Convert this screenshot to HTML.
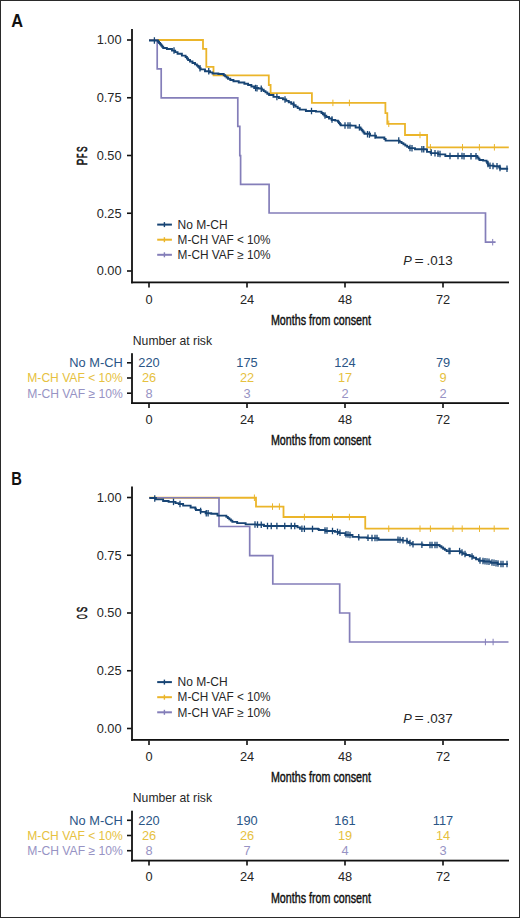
<!DOCTYPE html>
<html><head><meta charset="utf-8"><style>
html,body{margin:0;padding:0;background:#fff;}
body{width:520px;height:918px;overflow:hidden;}
svg{display:block;}
text{font-family:"Liberation Sans", sans-serif;}
</style></head><body>
<svg width="520" height="918" viewBox="0 0 520 918">
<rect x="0" y="0" width="520" height="918" fill="#fff"/>
<rect x="0.5" y="0.5" width="519" height="917" fill="none" stroke="#2a2a2a" stroke-width="1"/>
<text x="11.2" y="26.80" font-size="18.4" font-weight="bold" fill="#111" textLength="11.80" lengthAdjust="spacingAndGlyphs">A</text>
<rect x="131.1" y="29.00" width="1.8" height="254.30" fill="#111"/>
<rect x="131.1" y="281.50" width="377.90" height="1.8" fill="#111"/>
<rect x="127" y="39.20" width="4.5" height="1.6" fill="#111"/>
<text x="121.6" y="44.30" font-size="12.8" fill="#262626" text-anchor="end">1.00</text>
<rect x="127" y="96.95" width="4.5" height="1.6" fill="#111"/>
<text x="121.6" y="102.05" font-size="12.8" fill="#262626" text-anchor="end">0.75</text>
<rect x="127" y="154.70" width="4.5" height="1.6" fill="#111"/>
<text x="121.6" y="159.80" font-size="12.8" fill="#262626" text-anchor="end">0.50</text>
<rect x="127" y="212.45" width="4.5" height="1.6" fill="#111"/>
<text x="121.6" y="217.55" font-size="12.8" fill="#262626" text-anchor="end">0.25</text>
<rect x="127" y="270.20" width="4.5" height="1.6" fill="#111"/>
<text x="121.6" y="275.30" font-size="12.8" fill="#262626" text-anchor="end">0.00</text>
<rect x="148.20" y="283.00" width="1.6" height="4.5" fill="#111"/>
<text x="149.00" y="303.70" font-size="12.8" fill="#262626" text-anchor="middle">0</text>
<rect x="246.20" y="283.00" width="1.6" height="4.5" fill="#111"/>
<text x="247.00" y="303.70" font-size="12.8" fill="#262626" text-anchor="middle">24</text>
<rect x="344.20" y="283.00" width="1.6" height="4.5" fill="#111"/>
<text x="345.00" y="303.70" font-size="12.8" fill="#262626" text-anchor="middle">48</text>
<rect x="442.20" y="283.00" width="1.6" height="4.5" fill="#111"/>
<text x="443.00" y="303.70" font-size="12.8" fill="#262626" text-anchor="middle">72</text>
<text x="270.9" y="324.80" font-size="15.2" fill="#111" stroke="#111" stroke-width="0.45" textLength="100" lengthAdjust="spacingAndGlyphs">Months from consent</text>
<g transform="translate(87.1 155.60) rotate(-90)"><text transform="translate(-9.701 0) scale(0.6428 1)" x="0" y="0" font-size="15.20" fill="#111" stroke="#111" stroke-width="0.60">P</text><text transform="translate(-2.287 0) scale(0.4711 1)" x="0" y="0" font-size="15.20" fill="#111" stroke="#111" stroke-width="0.60">F</text><text transform="translate(3.621 0) scale(0.5485 1)" x="0" y="0" font-size="15.20" fill="#111" stroke="#111" stroke-width="0.60">S</text></g>
<path d="M149.00 40.00 H203.00 V48.80 H206.30 V66.90 H213.50 V75.30 H268.80 V85.00 H270.60 V93.10 H311.90 V102.90 H385.40 V113.10 H387.30 V123.80 H405.00 V135.00 H427.10 V147.30 H508.80" fill="none" stroke="#ebb52a" stroke-width="1.8"/>
<path d="M149.00 40.00 H157.20 V68.90 H161.20 V97.90 H237.80 V126.40 H239.80 V155.70 H240.60 V184.40 H269.10 V213.00 H485.50 V242.20 H495.60" fill="none" stroke="#847eb9" stroke-width="1.7"/>
<path d="M149.00 40.50 H157.50 V40.50 H158.02 V41.75 H159.06 V43.00 H160.10 V44.25 H161.15 V45.50 H162.19 V46.75 H163.23 V48.00 H163.75 H166.88 V49.00 H170.00 H172.00 V50.60 H174.00 H175.19 V52.17 H177.56 V53.75 H178.75 H181.88 V55.60 H185.00 H185.62 V57.07 H186.88 V58.53 H188.12 V60.00 H188.75 H190.00 V61.47 H192.50 V62.93 H195.00 V64.40 H196.25 H196.88 V65.65 H198.12 V66.90 H199.38 V68.15 H200.62 V69.40 H201.25 H205.00 V71.25 H208.75 H210.00 V72.38 H212.50 V73.50 H213.75 H218.38 V74.00 H223.00 H223.72 V75.19 H225.16 V76.38 H226.59 V77.56 H228.03 V78.75 H228.75 H230.31 V80.00 H233.44 V81.25 H235.00 H238.75 V82.50 H242.50 H244.38 V83.75 H248.12 V85.00 H250.00 H251.40 V86.50 H254.20 V88.00 H255.60 H258.30 V88.50 H261.00 H261.90 V89.80 H263.70 V91.10 H265.50 V92.40 H267.30 V93.70 H269.10 V95.00 H270.00 H273.45 V96.90 H276.90 H278.92 V98.15 H282.98 V99.40 H285.00 H286.25 V100.85 H288.75 V102.30 H291.25 V103.75 H292.50 H293.54 V105.21 H295.61 V106.67 H297.69 V108.14 H299.76 V109.60 H300.80 H305.90 V111.00 H311.00 H315.90 V111.60 H320.80 H321.50 V112.93 H322.90 V114.27 H324.30 V115.60 H325.00 H326.33 V117.07 H329.00 V118.53 H331.67 V120.00 H333.00 H335.25 V120.60 H337.50 H337.97 V121.80 H338.91 V123.00 H339.84 V124.20 H340.78 V125.40 H341.25 H351.25 V125.60 H355.62 V127.50 H360.00 H360.50 V128.75 H361.50 V130.00 H362.50 V131.25 H363.50 V132.50 H364.50 V133.75 H365.00 H370.00 V135.60 H375.00 H375.95 V137.50 H376.90 H383.75 V137.50 H384.38 V139.05 H385.62 V140.60 H386.25 H398.75 V140.60 H399.69 V141.85 H401.56 V143.10 H403.44 V144.35 H405.31 V145.60 H407.19 V146.85 H409.06 V148.10 H410.00 H415.00 V149.20 H420.00 H426.25 V149.40 H427.00 V151.90 H430.73 V153.15 H438.17 V154.40 H441.90 H445.32 V156.00 H448.75 H476.90 V156.25 H477.42 V157.50 H478.45 V158.75 H479.48 V160.00 H480.00 H483.12 V160.60 H486.25 H486.56 V161.85 H487.19 V163.10 H487.81 V164.35 H488.44 V165.60 H488.75 H493.75 V166.25 H498.75 H499.21 V167.50 H500.14 V168.75 H500.60 H508.10 V168.75" fill="none" stroke="#174474" stroke-width="1.9"/>
<line x1="332.90" y1="99.65" x2="332.90" y2="106.15" stroke="#ebb52a" stroke-width="1.00"/><line x1="349.40" y1="99.65" x2="349.40" y2="106.15" stroke="#ebb52a" stroke-width="1.00"/><line x1="388.75" y1="120.55" x2="388.75" y2="127.05" stroke="#ebb52a" stroke-width="1.00"/><line x1="420.00" y1="131.75" x2="420.00" y2="138.25" stroke="#ebb52a" stroke-width="1.00"/><line x1="430.40" y1="144.05" x2="430.40" y2="150.55" stroke="#ebb52a" stroke-width="1.00"/><line x1="462.50" y1="144.05" x2="462.50" y2="150.55" stroke="#ebb52a" stroke-width="1.00"/><line x1="479.40" y1="144.05" x2="479.40" y2="150.55" stroke="#ebb52a" stroke-width="1.00"/><line x1="494.40" y1="144.05" x2="494.40" y2="150.55" stroke="#ebb52a" stroke-width="1.00"/>
<line x1="492.70" y1="238.95" x2="492.70" y2="245.45" stroke="#847eb9" stroke-width="1.00"/>
<line x1="154.40" y1="37.25" x2="154.40" y2="43.75" stroke="#174474" stroke-width="1.30"/><line x1="174.00" y1="47.35" x2="174.00" y2="53.85" stroke="#174474" stroke-width="1.30"/><line x1="200.00" y1="64.90" x2="200.00" y2="71.40" stroke="#174474" stroke-width="1.30"/><line x1="208.75" y1="68.00" x2="208.75" y2="74.50" stroke="#174474" stroke-width="1.30"/><line x1="255.60" y1="84.75" x2="255.60" y2="91.25" stroke="#174474" stroke-width="1.30"/><line x1="257.00" y1="84.88" x2="257.00" y2="91.38" stroke="#174474" stroke-width="1.30"/><line x1="261.25" y1="85.43" x2="261.25" y2="91.93" stroke="#174474" stroke-width="1.30"/><line x1="276.90" y1="93.65" x2="276.90" y2="100.15" stroke="#174474" stroke-width="1.30"/><line x1="285.00" y1="96.15" x2="285.00" y2="102.65" stroke="#174474" stroke-width="1.30"/><line x1="293.75" y1="101.38" x2="293.75" y2="107.88" stroke="#174474" stroke-width="1.30"/><line x1="311.50" y1="107.78" x2="311.50" y2="114.28" stroke="#174474" stroke-width="1.30"/><line x1="325.00" y1="112.35" x2="325.00" y2="118.85" stroke="#174474" stroke-width="1.30"/><line x1="332.00" y1="116.20" x2="332.00" y2="122.70" stroke="#174474" stroke-width="1.30"/><line x1="345.00" y1="122.22" x2="345.00" y2="128.72" stroke="#174474" stroke-width="1.30"/><line x1="348.00" y1="122.28" x2="348.00" y2="128.78" stroke="#174474" stroke-width="1.30"/><line x1="350.00" y1="122.32" x2="350.00" y2="128.82" stroke="#174474" stroke-width="1.30"/><line x1="359.40" y1="124.12" x2="359.40" y2="130.62" stroke="#174474" stroke-width="1.30"/><line x1="367.50" y1="130.96" x2="367.50" y2="137.46" stroke="#174474" stroke-width="1.30"/><line x1="369.40" y1="131.31" x2="369.40" y2="137.81" stroke="#174474" stroke-width="1.30"/><line x1="375.00" y1="132.35" x2="375.00" y2="138.85" stroke="#174474" stroke-width="1.30"/><line x1="398.75" y1="137.35" x2="398.75" y2="143.85" stroke="#174474" stroke-width="1.30"/><line x1="410.00" y1="144.85" x2="410.00" y2="151.35" stroke="#174474" stroke-width="1.30"/><line x1="412.00" y1="145.07" x2="412.00" y2="151.57" stroke="#174474" stroke-width="1.30"/><line x1="421.90" y1="146.01" x2="421.90" y2="152.51" stroke="#174474" stroke-width="1.30"/><line x1="423.75" y1="146.07" x2="423.75" y2="152.57" stroke="#174474" stroke-width="1.30"/><line x1="431.25" y1="149.36" x2="431.25" y2="155.86" stroke="#174474" stroke-width="1.30"/><line x1="435.00" y1="149.99" x2="435.00" y2="156.49" stroke="#174474" stroke-width="1.30"/><line x1="438.00" y1="150.50" x2="438.00" y2="157.00" stroke="#174474" stroke-width="1.30"/><line x1="440.00" y1="150.83" x2="440.00" y2="157.33" stroke="#174474" stroke-width="1.30"/><line x1="450.00" y1="152.76" x2="450.00" y2="159.26" stroke="#174474" stroke-width="1.30"/><line x1="458.00" y1="152.83" x2="458.00" y2="159.33" stroke="#174474" stroke-width="1.30"/><line x1="462.00" y1="152.87" x2="462.00" y2="159.37" stroke="#174474" stroke-width="1.30"/><line x1="464.00" y1="152.89" x2="464.00" y2="159.39" stroke="#174474" stroke-width="1.30"/><line x1="471.00" y1="152.95" x2="471.00" y2="159.45" stroke="#174474" stroke-width="1.30"/><line x1="476.00" y1="152.99" x2="476.00" y2="159.49" stroke="#174474" stroke-width="1.30"/><line x1="488.00" y1="160.85" x2="488.00" y2="167.35" stroke="#174474" stroke-width="1.30"/><line x1="490.00" y1="162.43" x2="490.00" y2="168.93" stroke="#174474" stroke-width="1.30"/><line x1="493.00" y1="162.63" x2="493.00" y2="169.13" stroke="#174474" stroke-width="1.30"/><line x1="497.00" y1="162.89" x2="497.00" y2="169.39" stroke="#174474" stroke-width="1.30"/><line x1="500.00" y1="164.69" x2="500.00" y2="171.19" stroke="#174474" stroke-width="1.30"/><line x1="507.00" y1="165.50" x2="507.00" y2="172.00" stroke="#174474" stroke-width="1.30"/>
<rect x="157.2" y="223.60" width="14.7" height="2" fill="#174474"/>
<rect x="163.7" y="222.10" width="1.4" height="5" fill="#174474"/>
<text x="177.6" y="228.80" font-size="12" fill="#262626" textLength="50.00" lengthAdjust="spacingAndGlyphs">No M-CH</text>
<rect x="157.2" y="238.70" width="14.7" height="2" fill="#ebb52a"/>
<rect x="163.7" y="237.20" width="1.4" height="5" fill="#ebb52a"/>
<text x="177.6" y="243.90" font-size="12" fill="#262626" textLength="93.00" lengthAdjust="spacingAndGlyphs">M-CH VAF &lt; 10%</text>
<rect x="157.2" y="253.80" width="14.7" height="2" fill="#847eb9"/>
<rect x="163.7" y="252.30" width="1.4" height="5" fill="#847eb9"/>
<text x="177.6" y="259.00" font-size="12" fill="#262626" textLength="93.00" lengthAdjust="spacingAndGlyphs">M-CH VAF &#8805; 10%</text>
<text x="403.2" y="265.20" font-size="12.8" font-style="italic" fill="#262626">P</text>
<text x="414.6" y="264.60" font-size="12.8" fill="#262626" textLength="9.2" lengthAdjust="spacingAndGlyphs">=</text>
<text x="426.6" y="265.20" font-size="13.4" fill="#262626">.013</text>
<text x="132.8" y="344.70" font-size="12.2" fill="#262626">Number at risk</text>
<rect x="131.1" y="353.20" width="1.8" height="50.80" fill="#111"/>
<rect x="131.1" y="402.20" width="377.90" height="1.8" fill="#111"/>
<rect x="127" y="362.00" width="4.5" height="1.6" fill="#111"/>
<text x="69.30" y="367.10" font-size="12.6" fill="#2a5586" textLength="53.50" lengthAdjust="spacingAndGlyphs">No M-CH</text>
<text x="149.00" y="367.10" font-size="12.8" fill="#2a5586" text-anchor="middle">220</text>
<text x="247.00" y="367.10" font-size="12.8" fill="#2a5586" text-anchor="middle">175</text>
<text x="345.00" y="367.10" font-size="12.8" fill="#2a5586" text-anchor="middle">124</text>
<text x="443.00" y="367.10" font-size="12.8" fill="#2a5586" text-anchor="middle">79</text>
<rect x="127" y="377.20" width="4.5" height="1.6" fill="#111"/>
<text x="27.30" y="382.30" font-size="12.6" fill="#e6c140" textLength="95.50" lengthAdjust="spacingAndGlyphs">M-CH VAF &lt; 10%</text>
<text x="149.00" y="382.30" font-size="12.8" fill="#e6c140" text-anchor="middle">26</text>
<text x="247.00" y="382.30" font-size="12.8" fill="#e6c140" text-anchor="middle">22</text>
<text x="345.00" y="382.30" font-size="12.8" fill="#e6c140" text-anchor="middle">17</text>
<text x="443.00" y="382.30" font-size="12.8" fill="#e6c140" text-anchor="middle">9</text>
<rect x="127" y="392.40" width="4.5" height="1.6" fill="#111"/>
<text x="27.30" y="397.50" font-size="12.6" fill="#9793c4" textLength="95.50" lengthAdjust="spacingAndGlyphs">M-CH VAF &#8805; 10%</text>
<text x="149.00" y="397.50" font-size="12.8" fill="#9793c4" text-anchor="middle">8</text>
<text x="247.00" y="397.50" font-size="12.8" fill="#9793c4" text-anchor="middle">3</text>
<text x="345.00" y="397.50" font-size="12.8" fill="#9793c4" text-anchor="middle">2</text>
<text x="443.00" y="397.50" font-size="12.8" fill="#9793c4" text-anchor="middle">2</text>
<rect x="148.20" y="403.50" width="1.6" height="4.5" fill="#111"/>
<text x="149.00" y="423.80" font-size="12.8" fill="#262626" text-anchor="middle">0</text>
<rect x="246.20" y="403.50" width="1.6" height="4.5" fill="#111"/>
<text x="247.00" y="423.80" font-size="12.8" fill="#262626" text-anchor="middle">24</text>
<rect x="344.20" y="403.50" width="1.6" height="4.5" fill="#111"/>
<text x="345.00" y="423.80" font-size="12.8" fill="#262626" text-anchor="middle">48</text>
<rect x="442.20" y="403.50" width="1.6" height="4.5" fill="#111"/>
<text x="443.00" y="423.80" font-size="12.8" fill="#262626" text-anchor="middle">72</text>
<text x="270.9" y="445.40" font-size="15.2" fill="#111" stroke="#111" stroke-width="0.45" textLength="100" lengthAdjust="spacingAndGlyphs">Months from consent</text>
<text x="11.2" y="484.70" font-size="18.4" font-weight="bold" fill="#111" textLength="10.60" lengthAdjust="spacingAndGlyphs">B</text>
<rect x="131.1" y="486.50" width="1.8" height="254.30" fill="#111"/>
<rect x="131.1" y="739.00" width="377.90" height="1.8" fill="#111"/>
<rect x="127" y="496.70" width="4.5" height="1.6" fill="#111"/>
<text x="121.6" y="501.80" font-size="12.8" fill="#262626" text-anchor="end">1.00</text>
<rect x="127" y="554.45" width="4.5" height="1.6" fill="#111"/>
<text x="121.6" y="559.55" font-size="12.8" fill="#262626" text-anchor="end">0.75</text>
<rect x="127" y="612.20" width="4.5" height="1.6" fill="#111"/>
<text x="121.6" y="617.30" font-size="12.8" fill="#262626" text-anchor="end">0.50</text>
<rect x="127" y="669.95" width="4.5" height="1.6" fill="#111"/>
<text x="121.6" y="675.05" font-size="12.8" fill="#262626" text-anchor="end">0.25</text>
<rect x="127" y="727.70" width="4.5" height="1.6" fill="#111"/>
<text x="121.6" y="732.80" font-size="12.8" fill="#262626" text-anchor="end">0.00</text>
<rect x="148.20" y="740.50" width="1.6" height="4.5" fill="#111"/>
<text x="149.00" y="761.20" font-size="12.8" fill="#262626" text-anchor="middle">0</text>
<rect x="246.20" y="740.50" width="1.6" height="4.5" fill="#111"/>
<text x="247.00" y="761.20" font-size="12.8" fill="#262626" text-anchor="middle">24</text>
<rect x="344.20" y="740.50" width="1.6" height="4.5" fill="#111"/>
<text x="345.00" y="761.20" font-size="12.8" fill="#262626" text-anchor="middle">48</text>
<rect x="442.20" y="740.50" width="1.6" height="4.5" fill="#111"/>
<text x="443.00" y="761.20" font-size="12.8" fill="#262626" text-anchor="middle">72</text>
<text x="270.9" y="782.30" font-size="15.2" fill="#111" stroke="#111" stroke-width="0.45" textLength="100" lengthAdjust="spacingAndGlyphs">Months from consent</text>
<g transform="translate(87.1 613.10) rotate(-90)"><text transform="translate(-5.891 0) scale(0.4048 1)" x="0" y="0" font-size="15.20" fill="#111" stroke="#111" stroke-width="0.60">O</text><text transform="translate(0.929 0) scale(0.5371 1)" x="0" y="0" font-size="15.20" fill="#111" stroke="#111" stroke-width="0.60">S</text></g>
<path d="M149.00 497.75 H256.00 V506.60 H283.50 V517.00 H365.25 V528.70 H508.90" fill="none" stroke="#ebb52a" stroke-width="1.8"/>
<path d="M149.00 497.75 H219.00 V526.50 H249.70 V555.60 H272.80 V584.00 H339.70 V613.00 H349.60 V642.00 H508.50" fill="none" stroke="#847eb9" stroke-width="1.7"/>
<path d="M149.40 498.00 H155.95 V499.40 H162.50 H163.12 V501.00 H163.75 H168.62 V501.90 H173.50 H175.50 V503.10 H177.50 H178.75 V504.00 H180.00 H183.12 V505.60 H186.25 H190.62 V507.50 H195.00 H195.31 V508.75 H195.94 V510.00 H196.25 H200.62 V511.90 H205.00 H205.62 V513.20 H206.25 H211.25 V513.75 H216.25 H217.50 V515.60 H218.75 H225.60 V515.60 H226.35 V516.86 H227.85 V518.12 H229.35 V519.38 H230.85 V520.64 H232.35 V521.90 H233.10 H237.18 V523.10 H241.25 H245.62 V524.40 H250.00 H256.88 V524.75 H263.75 H264.00 V526.00 H296.25 V526.00 H297.50 V527.38 H300.00 V528.75 H301.25 H318.00 V529.00 H318.75 V530.00 H325.62 V531.00 H332.50 H335.00 V531.90 H337.50 H339.05 V533.10 H340.60 H345.30 V535.00 H350.00 H352.50 V536.90 H355.00 H358.75 V537.50 H362.50 H367.25 V538.10 H372.00 H378.10 V538.10 H378.50 V539.75 H398.10 V539.75 H402.18 V540.60 H406.25 H407.19 V541.85 H409.06 V543.10 H410.00 H411.88 V544.40 H413.75 H420.00 V544.40 H422.50 V545.00 H425.00 H438.80 V545.10 H439.67 V546.30 H441.41 V547.50 H443.15 V548.70 H444.89 V549.90 H446.63 V551.10 H447.50 H459.60 V551.10 H460.68 V552.40 H462.82 V553.70 H463.90 H465.85 V555.00 H469.75 V556.30 H471.70 H473.15 V557.77 H476.05 V559.23 H478.95 V560.70 H480.40 H483.85 V561.50 H487.30 H490.75 V562.80 H497.65 V564.10 H501.10 H508.00 V564.10" fill="none" stroke="#174474" stroke-width="1.9"/>
<line x1="254.40" y1="494.50" x2="254.40" y2="501.00" stroke="#ebb52a" stroke-width="1.00"/><line x1="272.50" y1="503.35" x2="272.50" y2="509.85" stroke="#ebb52a" stroke-width="1.00"/><line x1="279.40" y1="503.35" x2="279.40" y2="509.85" stroke="#ebb52a" stroke-width="1.00"/><line x1="304.40" y1="513.75" x2="304.40" y2="520.25" stroke="#ebb52a" stroke-width="1.00"/><line x1="332.50" y1="513.75" x2="332.50" y2="520.25" stroke="#ebb52a" stroke-width="1.00"/><line x1="349.40" y1="513.75" x2="349.40" y2="520.25" stroke="#ebb52a" stroke-width="1.00"/><line x1="388.75" y1="525.45" x2="388.75" y2="531.95" stroke="#ebb52a" stroke-width="1.00"/><line x1="420.00" y1="525.45" x2="420.00" y2="531.95" stroke="#ebb52a" stroke-width="1.00"/><line x1="430.40" y1="525.45" x2="430.40" y2="531.95" stroke="#ebb52a" stroke-width="1.00"/><line x1="453.00" y1="525.45" x2="453.00" y2="531.95" stroke="#ebb52a" stroke-width="1.00"/><line x1="462.20" y1="525.45" x2="462.20" y2="531.95" stroke="#ebb52a" stroke-width="1.00"/><line x1="479.50" y1="525.45" x2="479.50" y2="531.95" stroke="#ebb52a" stroke-width="1.00"/><line x1="494.20" y1="525.45" x2="494.20" y2="531.95" stroke="#ebb52a" stroke-width="1.00"/>
<line x1="485.40" y1="638.75" x2="485.40" y2="645.25" stroke="#847eb9" stroke-width="1.00"/><line x1="493.10" y1="638.75" x2="493.10" y2="645.25" stroke="#847eb9" stroke-width="1.00"/>
<line x1="154.75" y1="495.32" x2="154.75" y2="501.82" stroke="#174474" stroke-width="1.30"/><line x1="173.50" y1="498.65" x2="173.50" y2="505.15" stroke="#174474" stroke-width="1.30"/><line x1="180.00" y1="500.75" x2="180.00" y2="507.25" stroke="#174474" stroke-width="1.30"/><line x1="200.60" y1="507.69" x2="200.60" y2="514.19" stroke="#174474" stroke-width="1.30"/><line x1="206.25" y1="509.95" x2="206.25" y2="516.45" stroke="#174474" stroke-width="1.30"/><line x1="208.10" y1="510.05" x2="208.10" y2="516.55" stroke="#174474" stroke-width="1.30"/><line x1="255.00" y1="521.28" x2="255.00" y2="527.78" stroke="#174474" stroke-width="1.30"/><line x1="257.50" y1="521.34" x2="257.50" y2="527.84" stroke="#174474" stroke-width="1.30"/><line x1="261.25" y1="521.44" x2="261.25" y2="527.94" stroke="#174474" stroke-width="1.30"/><line x1="267.50" y1="522.75" x2="267.50" y2="529.25" stroke="#174474" stroke-width="1.30"/><line x1="271.25" y1="522.75" x2="271.25" y2="529.25" stroke="#174474" stroke-width="1.30"/><line x1="276.90" y1="522.75" x2="276.90" y2="529.25" stroke="#174474" stroke-width="1.30"/><line x1="284.75" y1="522.75" x2="284.75" y2="529.25" stroke="#174474" stroke-width="1.30"/><line x1="291.25" y1="522.75" x2="291.25" y2="529.25" stroke="#174474" stroke-width="1.30"/><line x1="294.75" y1="522.75" x2="294.75" y2="529.25" stroke="#174474" stroke-width="1.30"/><line x1="301.90" y1="525.51" x2="301.90" y2="532.01" stroke="#174474" stroke-width="1.30"/><line x1="304.40" y1="525.55" x2="304.40" y2="532.05" stroke="#174474" stroke-width="1.30"/><line x1="312.50" y1="525.67" x2="312.50" y2="532.17" stroke="#174474" stroke-width="1.30"/><line x1="325.00" y1="527.20" x2="325.00" y2="533.70" stroke="#174474" stroke-width="1.30"/><line x1="327.00" y1="527.35" x2="327.00" y2="533.85" stroke="#174474" stroke-width="1.30"/><line x1="332.50" y1="527.75" x2="332.50" y2="534.25" stroke="#174474" stroke-width="1.30"/><line x1="337.50" y1="528.65" x2="337.50" y2="535.15" stroke="#174474" stroke-width="1.30"/><line x1="340.00" y1="529.62" x2="340.00" y2="536.12" stroke="#174474" stroke-width="1.30"/><line x1="346.00" y1="530.94" x2="346.00" y2="537.44" stroke="#174474" stroke-width="1.30"/><line x1="348.00" y1="531.35" x2="348.00" y2="537.85" stroke="#174474" stroke-width="1.30"/><line x1="350.00" y1="531.75" x2="350.00" y2="538.25" stroke="#174474" stroke-width="1.30"/><line x1="358.75" y1="533.95" x2="358.75" y2="540.45" stroke="#174474" stroke-width="1.30"/><line x1="368.00" y1="534.60" x2="368.00" y2="541.10" stroke="#174474" stroke-width="1.30"/><line x1="372.00" y1="534.85" x2="372.00" y2="541.35" stroke="#174474" stroke-width="1.30"/><line x1="375.00" y1="534.85" x2="375.00" y2="541.35" stroke="#174474" stroke-width="1.30"/><line x1="377.00" y1="534.85" x2="377.00" y2="541.35" stroke="#174474" stroke-width="1.30"/><line x1="398.00" y1="536.50" x2="398.00" y2="543.00" stroke="#174474" stroke-width="1.30"/><line x1="400.00" y1="536.70" x2="400.00" y2="543.20" stroke="#174474" stroke-width="1.30"/><line x1="403.00" y1="537.01" x2="403.00" y2="543.51" stroke="#174474" stroke-width="1.30"/><line x1="407.00" y1="537.85" x2="407.00" y2="544.35" stroke="#174474" stroke-width="1.30"/><line x1="410.00" y1="539.85" x2="410.00" y2="546.35" stroke="#174474" stroke-width="1.30"/><line x1="413.00" y1="540.89" x2="413.00" y2="547.39" stroke="#174474" stroke-width="1.30"/><line x1="421.90" y1="541.38" x2="421.90" y2="547.88" stroke="#174474" stroke-width="1.30"/><line x1="430.00" y1="541.79" x2="430.00" y2="548.29" stroke="#174474" stroke-width="1.30"/><line x1="432.00" y1="541.80" x2="432.00" y2="548.30" stroke="#174474" stroke-width="1.30"/><line x1="435.00" y1="541.82" x2="435.00" y2="548.32" stroke="#174474" stroke-width="1.30"/><line x1="437.00" y1="541.84" x2="437.00" y2="548.34" stroke="#174474" stroke-width="1.30"/><line x1="449.00" y1="547.85" x2="449.00" y2="554.35" stroke="#174474" stroke-width="1.30"/><line x1="450.00" y1="547.85" x2="450.00" y2="554.35" stroke="#174474" stroke-width="1.30"/><line x1="459.60" y1="547.85" x2="459.60" y2="554.35" stroke="#174474" stroke-width="1.30"/><line x1="462.00" y1="549.30" x2="462.00" y2="555.80" stroke="#174474" stroke-width="1.30"/><line x1="465.00" y1="550.82" x2="465.00" y2="557.32" stroke="#174474" stroke-width="1.30"/><line x1="472.00" y1="553.20" x2="472.00" y2="559.70" stroke="#174474" stroke-width="1.30"/><line x1="480.00" y1="557.25" x2="480.00" y2="563.75" stroke="#174474" stroke-width="1.30"/><line x1="483.00" y1="557.75" x2="483.00" y2="564.25" stroke="#174474" stroke-width="1.30"/><line x1="485.00" y1="557.98" x2="485.00" y2="564.48" stroke="#174474" stroke-width="1.30"/><line x1="487.00" y1="558.22" x2="487.00" y2="564.72" stroke="#174474" stroke-width="1.30"/><line x1="489.00" y1="558.57" x2="489.00" y2="565.07" stroke="#174474" stroke-width="1.30"/><line x1="492.00" y1="559.14" x2="492.00" y2="565.64" stroke="#174474" stroke-width="1.30"/><line x1="494.00" y1="559.51" x2="494.00" y2="566.01" stroke="#174474" stroke-width="1.30"/><line x1="496.00" y1="559.89" x2="496.00" y2="566.39" stroke="#174474" stroke-width="1.30"/><line x1="498.00" y1="560.27" x2="498.00" y2="566.77" stroke="#174474" stroke-width="1.30"/><line x1="501.00" y1="560.83" x2="501.00" y2="567.33" stroke="#174474" stroke-width="1.30"/><line x1="503.00" y1="560.85" x2="503.00" y2="567.35" stroke="#174474" stroke-width="1.30"/><line x1="507.00" y1="560.85" x2="507.00" y2="567.35" stroke="#174474" stroke-width="1.30"/>
<rect x="157.2" y="681.10" width="14.7" height="2" fill="#174474"/>
<rect x="163.7" y="679.60" width="1.4" height="5" fill="#174474"/>
<text x="177.6" y="686.30" font-size="12" fill="#262626" textLength="50.00" lengthAdjust="spacingAndGlyphs">No M-CH</text>
<rect x="157.2" y="696.20" width="14.7" height="2" fill="#ebb52a"/>
<rect x="163.7" y="694.70" width="1.4" height="5" fill="#ebb52a"/>
<text x="177.6" y="701.40" font-size="12" fill="#262626" textLength="93.00" lengthAdjust="spacingAndGlyphs">M-CH VAF &lt; 10%</text>
<rect x="157.2" y="711.30" width="14.7" height="2" fill="#847eb9"/>
<rect x="163.7" y="709.80" width="1.4" height="5" fill="#847eb9"/>
<text x="177.6" y="716.50" font-size="12" fill="#262626" textLength="93.00" lengthAdjust="spacingAndGlyphs">M-CH VAF &#8805; 10%</text>
<text x="403.2" y="722.70" font-size="12.8" font-style="italic" fill="#262626">P</text>
<text x="414.6" y="722.10" font-size="12.8" fill="#262626" textLength="9.2" lengthAdjust="spacingAndGlyphs">=</text>
<text x="426.6" y="722.70" font-size="13.4" fill="#262626">.037</text>
<text x="132.8" y="802.20" font-size="12.2" fill="#262626">Number at risk</text>
<rect x="131.1" y="810.70" width="1.8" height="50.80" fill="#111"/>
<rect x="131.1" y="859.70" width="377.90" height="1.8" fill="#111"/>
<rect x="127" y="819.50" width="4.5" height="1.6" fill="#111"/>
<text x="69.30" y="824.60" font-size="12.6" fill="#2a5586" textLength="53.50" lengthAdjust="spacingAndGlyphs">No M-CH</text>
<text x="149.00" y="824.60" font-size="12.8" fill="#2a5586" text-anchor="middle">220</text>
<text x="247.00" y="824.60" font-size="12.8" fill="#2a5586" text-anchor="middle">190</text>
<text x="345.00" y="824.60" font-size="12.8" fill="#2a5586" text-anchor="middle">161</text>
<text x="443.00" y="824.60" font-size="12.8" fill="#2a5586" text-anchor="middle">117</text>
<rect x="127" y="834.70" width="4.5" height="1.6" fill="#111"/>
<text x="27.30" y="839.80" font-size="12.6" fill="#e6c140" textLength="95.50" lengthAdjust="spacingAndGlyphs">M-CH VAF &lt; 10%</text>
<text x="149.00" y="839.80" font-size="12.8" fill="#e6c140" text-anchor="middle">26</text>
<text x="247.00" y="839.80" font-size="12.8" fill="#e6c140" text-anchor="middle">26</text>
<text x="345.00" y="839.80" font-size="12.8" fill="#e6c140" text-anchor="middle">19</text>
<text x="443.00" y="839.80" font-size="12.8" fill="#e6c140" text-anchor="middle">14</text>
<rect x="127" y="849.90" width="4.5" height="1.6" fill="#111"/>
<text x="27.30" y="855.00" font-size="12.6" fill="#9793c4" textLength="95.50" lengthAdjust="spacingAndGlyphs">M-CH VAF &#8805; 10%</text>
<text x="149.00" y="855.00" font-size="12.8" fill="#9793c4" text-anchor="middle">8</text>
<text x="247.00" y="855.00" font-size="12.8" fill="#9793c4" text-anchor="middle">7</text>
<text x="345.00" y="855.00" font-size="12.8" fill="#9793c4" text-anchor="middle">4</text>
<text x="443.00" y="855.00" font-size="12.8" fill="#9793c4" text-anchor="middle">3</text>
<rect x="148.20" y="861.00" width="1.6" height="4.5" fill="#111"/>
<text x="149.00" y="881.30" font-size="12.8" fill="#262626" text-anchor="middle">0</text>
<rect x="246.20" y="861.00" width="1.6" height="4.5" fill="#111"/>
<text x="247.00" y="881.30" font-size="12.8" fill="#262626" text-anchor="middle">24</text>
<rect x="344.20" y="861.00" width="1.6" height="4.5" fill="#111"/>
<text x="345.00" y="881.30" font-size="12.8" fill="#262626" text-anchor="middle">48</text>
<rect x="442.20" y="861.00" width="1.6" height="4.5" fill="#111"/>
<text x="443.00" y="881.30" font-size="12.8" fill="#262626" text-anchor="middle">72</text>
<text x="270.9" y="902.90" font-size="15.2" fill="#111" stroke="#111" stroke-width="0.45" textLength="100" lengthAdjust="spacingAndGlyphs">Months from consent</text>
</svg>
</body></html>
